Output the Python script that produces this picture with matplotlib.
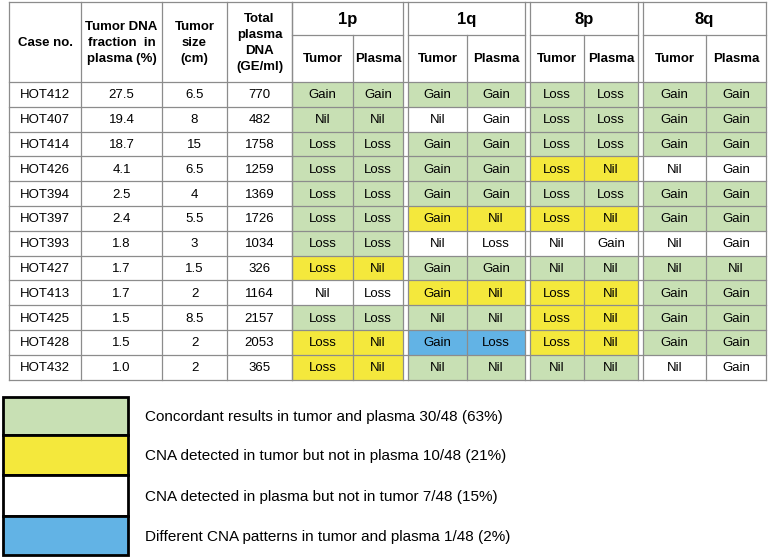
import matplotlib.pyplot as plt
from matplotlib.patches import Rectangle

plt.rcParams["font.family"] = ["Liberation Sans", "DejaVu Sans"]

# table data
cases = ["HOT412", "HOT407", "HOT414", "HOT426", "HOT394", "HOT397",
         "HOT393", "HOT427", "HOT413", "HOT425", "HOT428", "HOT432"]
fraction = ["27.5", "19.4", "18.7", "4.1", "2.5", "2.4",
            "1.8", "1.7", "1.7", "1.5", "1.5", "1.0"]
size_cm = ["6.5", "8", "15", "6.5", "4", "5.5", "3", "1.5", "2", "8.5", "2", "2"]
dna = ["770", "482", "1758", "1259", "1369", "1726",
       "1034", "326", "1164", "2157", "2053", "365"]
regions = ["1p", "1q", "8p", "8q"]
# (tumor, plasma) per region, one row per case
calls = [
    [("Gain", "Gain"), ("Gain", "Gain"), ("Loss", "Loss"), ("Gain", "Gain")],
    [("Nil", "Nil"), ("Nil", "Gain"), ("Loss", "Loss"), ("Gain", "Gain")],
    [("Loss", "Loss"), ("Gain", "Gain"), ("Loss", "Loss"), ("Gain", "Gain")],
    [("Loss", "Loss"), ("Gain", "Gain"), ("Loss", "Nil"), ("Nil", "Gain")],
    [("Loss", "Loss"), ("Gain", "Gain"), ("Loss", "Loss"), ("Gain", "Gain")],
    [("Loss", "Loss"), ("Gain", "Nil"), ("Loss", "Nil"), ("Gain", "Gain")],
    [("Loss", "Loss"), ("Nil", "Loss"), ("Nil", "Gain"), ("Nil", "Gain")],
    [("Loss", "Nil"), ("Gain", "Gain"), ("Nil", "Nil"), ("Nil", "Nil")],
    [("Nil", "Loss"), ("Gain", "Nil"), ("Loss", "Nil"), ("Gain", "Gain")],
    [("Loss", "Loss"), ("Nil", "Nil"), ("Loss", "Nil"), ("Gain", "Gain")],
    [("Loss", "Nil"), ("Gain", "Loss"), ("Loss", "Nil"), ("Gain", "Gain")],
    [("Loss", "Nil"), ("Nil", "Nil"), ("Nil", "Nil"), ("Nil", "Gain")],
]
legend_labels = [
    "Concordant results in tumor and plasma 30/48 (63%)",
    "CNA detected in tumor but not in plasma 10/48 (21%)",
    "CNA detected in plasma but not in tumor 7/48 (15%)",
    "Different CNA patterns in tumor and plasma 1/48 (2%)",
]

GREEN, YELLOW, WHITE, BLUE = "#c8e0b4", "#f4e83c", "#ffffff", "#62b3e5"
legend_colors = [GREEN, YELLOW, WHITE, BLUE]
LINE = "#8c8c8c"


def pair_color(t, p):
    if t == p:
        return GREEN
    if p == "Nil":
        return YELLOW
    if t == "Nil":
        return WHITE
    return BLUE


fig = plt.figure(figsize=(7.68, 5.59), dpi=100)
ax = fig.add_axes([0, 0, 1, 1])
ax.set_xlim(0, 768)
ax.set_ylim(559, 0)
ax.axis("off")

# layout (pixels)
left_cols = [9, 81, 162, 227, 292]
group_cols = [(292, 353, 403), (408, 467, 525), (530, 584, 638), (643, 706, 766)]
y_top, y_mid, y_head = 2, 35, 82
row_h = 24.8
n = len(cases)
y_bot = y_head + n * row_h
fs = 9.5

# colored cells
for i, row in enumerate(calls):
    y0 = y_head + i * row_h
    for g, (t, p) in enumerate(row):
        xa, xm, xb = group_cols[g]
        ax.add_patch(Rectangle((xa, y0), xb - xa, row_h, fc=pair_color(t, p), ec="none"))
        ax.text((xa + xm) / 2, y0 + row_h / 2 + 1, t, ha="center", va="center", fontsize=fs)
        ax.text((xm + xb) / 2, y0 + row_h / 2 + 1, p, ha="center", va="center", fontsize=fs)
    for j, val in enumerate([cases[i], fraction[i], size_cm[i], dna[i]]):
        ax.text((left_cols[j] + left_cols[j + 1]) / 2, y0 + row_h / 2 + 1, val,
                ha="center", va="center", fontsize=fs)

# grid lines
lw = 0.9
for k in range(n + 1):
    y = y_head + k * row_h
    ax.plot([left_cols[0], 766], [y, y], color=LINE, lw=lw)
ax.plot([left_cols[0], 766], [y_top, y_top], color=LINE, lw=lw)
for x in left_cols:
    ax.plot([x, x], [y_top, y_bot], color=LINE, lw=lw)
for xa, xm, xb in group_cols:
    ax.plot([xa, xa], [y_top, y_bot], color=LINE, lw=lw)
    ax.plot([xb, xb], [y_top, y_bot], color=LINE, lw=lw)
    ax.plot([xm, xm], [y_mid, y_bot], color=LINE, lw=lw)
    ax.plot([xa, xb], [y_mid, y_mid], color=LINE, lw=lw)

# headers
hy = (y_top + y_head) / 2
heads = ["Case no.", "Tumor DNA\nfraction  in\nplasma (%)", "Tumor\nsize\n(cm)",
         "Total\nplasma\nDNA\n(GE/ml)"]
for j, h in enumerate(heads):
    ax.text((left_cols[j] + left_cols[j + 1]) / 2, hy + 1, h, ha="center", va="center",
            fontsize=fs, fontweight="bold", linespacing=1.45)
for g, (xa, xm, xb) in enumerate(group_cols):
    ax.text((xa + xb) / 2, (y_top + y_mid) / 2 + 1, regions[g], ha="center", va="center",
            fontsize=12, fontweight="bold")
    ax.text((xa + xm) / 2, (y_mid + y_head) / 2 + 1, "Tumor", ha="center", va="center",
            fontsize=fs, fontweight="bold")
    ax.text((xm + xb) / 2, (y_mid + y_head) / 2 + 1, "Plasma", ha="center", va="center",
            fontsize=fs, fontweight="bold")

# legend
leg_y = [397, 435, 475, 516, 555]
for k, (c, lab) in enumerate(zip(legend_colors, legend_labels)):
    ax.add_patch(Rectangle((3, leg_y[k]), 125, leg_y[k + 1] - leg_y[k], fc=c,
                           ec="black", lw=2))
    ax.text(145, (leg_y[k] + leg_y[k + 1]) / 2 + 1, lab, ha="left", va="center",
            fontsize=11)

fig.savefig("out.png", dpi=100)
